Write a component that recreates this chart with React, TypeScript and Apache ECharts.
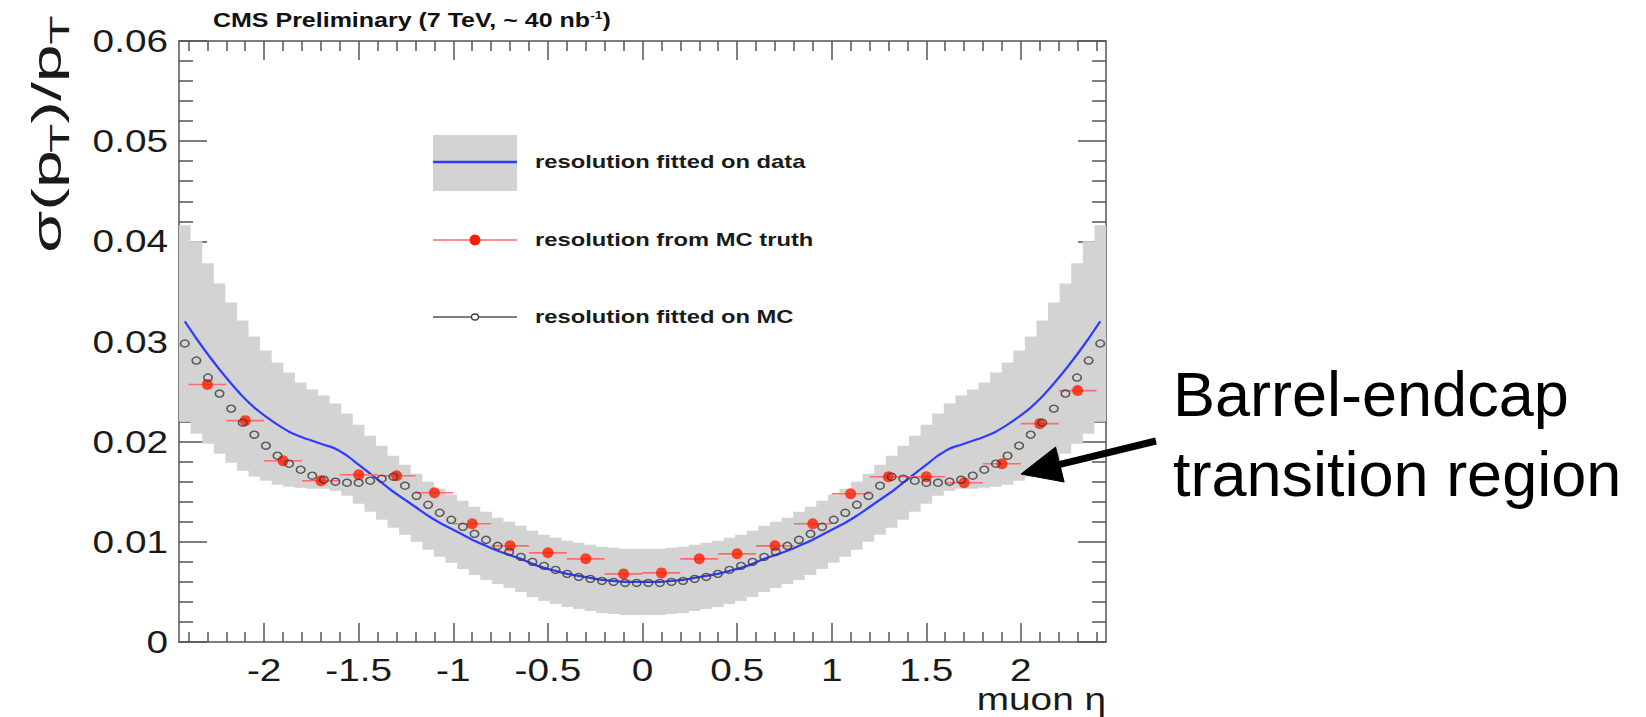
import React, { useEffect, useRef } from "react";
import * as echarts from "echarts";

// ---------------- data ----------------
const ETA_MIN = -2.45;
const ETA_MAX = 2.45;
const N_BINS = 80;
const BIN_W = (ETA_MAX - ETA_MIN) / N_BINS;
const etaCenters = Array.from({ length: N_BINS }, (_, k) => +(ETA_MIN + (k + 0.5) * BIN_W).toFixed(5));

// resolution fitted on MC (open circles), one value per bin
const mcFit = [
  0.0298, 0.0281, 0.0264, 0.0248, 0.0233, 0.0219, 0.0207, 0.0196, 0.0186, 0.0178,
  0.0172, 0.0166, 0.0162, 0.0160, 0.0159, 0.0159, 0.0161, 0.0163, 0.0165, 0.0156,
  0.0146, 0.0137, 0.0129, 0.0122, 0.0115, 0.0108, 0.0102, 0.0096, 0.0090, 0.0085,
  0.0080, 0.0076, 0.0072, 0.0068, 0.0065, 0.0063, 0.0061, 0.0060, 0.0059, 0.0059,
  0.0059, 0.0059, 0.0060, 0.0061, 0.0063, 0.0065, 0.0068, 0.0072, 0.0076, 0.0080,
  0.0085, 0.0090, 0.0096, 0.0102, 0.0108, 0.0115, 0.0122, 0.0129, 0.0137, 0.0146,
  0.0156, 0.0165, 0.0163, 0.0161, 0.0159, 0.0159, 0.0160, 0.0162, 0.0166, 0.0172,
  0.0178, 0.0186, 0.0196, 0.0207, 0.0219, 0.0233, 0.0248, 0.0264, 0.0281, 0.0298,
];

// resolution fitted on data (blue line)
const dataFit = [
  0.0320, 0.0303, 0.0287, 0.0272, 0.0258, 0.0245, 0.0234, 0.0225, 0.0217, 0.0210,
  0.0205, 0.0201, 0.0197, 0.0193, 0.0186, 0.0177, 0.0168, 0.0159, 0.0150, 0.0142,
  0.0134, 0.0126, 0.0119, 0.0113, 0.0107, 0.0101, 0.0096, 0.0091, 0.0087, 0.0083,
  0.0078, 0.0074, 0.0071, 0.0068, 0.0066, 0.0064, 0.0062, 0.0061, 0.0060, 0.0060,
  0.0060, 0.0060, 0.0061, 0.0062, 0.0064, 0.0066, 0.0068, 0.0071, 0.0074, 0.0078,
  0.0083, 0.0087, 0.0091, 0.0096, 0.0101, 0.0107, 0.0113, 0.0119, 0.0126, 0.0134,
  0.0142, 0.0150, 0.0159, 0.0168, 0.0177, 0.0186, 0.0193, 0.0197, 0.0201, 0.0205,
  0.0210, 0.0217, 0.0225, 0.0234, 0.0245, 0.0258, 0.0272, 0.0287, 0.0303, 0.0320,
];

// uncertainty band of the data fit (grey), lower and upper edge per bin
const bandLow = [
  0.0220, 0.0208, 0.0198, 0.0188, 0.0179, 0.0171, 0.0165, 0.0161, 0.0157, 0.0155,
  0.0154, 0.0153, 0.0153, 0.0151, 0.0146, 0.0138, 0.0130, 0.0122, 0.0114, 0.0107,
  0.0100, 0.0092, 0.0085, 0.0079, 0.0073, 0.0067, 0.0062, 0.0058, 0.0054, 0.0050,
  0.0045, 0.0041, 0.0038, 0.0035, 0.0033, 0.0031, 0.0029, 0.0028, 0.0027, 0.0027,
  0.0027, 0.0027, 0.0028, 0.0029, 0.0031, 0.0033, 0.0035, 0.0038, 0.0041, 0.0045,
  0.0050, 0.0054, 0.0058, 0.0062, 0.0067, 0.0073, 0.0079, 0.0085, 0.0092, 0.0100,
  0.0107, 0.0114, 0.0122, 0.0130, 0.0138, 0.0146, 0.0151, 0.0153, 0.0153, 0.0154,
  0.0155, 0.0157, 0.0161, 0.0165, 0.0171, 0.0179, 0.0188, 0.0198, 0.0208, 0.0220,
];
const bandHigh = [
  0.0416, 0.0400, 0.0378, 0.0358, 0.0339, 0.0321, 0.0305, 0.0291, 0.0279, 0.0269,
  0.0259, 0.0252, 0.0246, 0.0238, 0.0228, 0.0217, 0.0206, 0.0196, 0.0186, 0.0177,
  0.0168, 0.0160, 0.0153, 0.0147, 0.0141, 0.0135, 0.0130, 0.0124, 0.0120, 0.0116,
  0.0111, 0.0107, 0.0104, 0.0101, 0.0099, 0.0097, 0.0095, 0.0094, 0.0093, 0.0093,
  0.0093, 0.0093, 0.0094, 0.0095, 0.0097, 0.0099, 0.0101, 0.0104, 0.0107, 0.0111,
  0.0116, 0.0120, 0.0124, 0.0130, 0.0135, 0.0141, 0.0147, 0.0153, 0.0160, 0.0168,
  0.0177, 0.0186, 0.0196, 0.0206, 0.0217, 0.0228, 0.0238, 0.0246, 0.0252, 0.0259,
  0.0269, 0.0279, 0.0291, 0.0305, 0.0321, 0.0339, 0.0358, 0.0378, 0.0400, 0.0416,
];

// resolution from MC truth (red points with horizontal bars)
const truthEta = [
  -2.3, -2.1, -1.9, -1.7, -1.5, -1.3, -1.1, -0.9, -0.7, -0.5, -0.3, -0.1,
  0.1, 0.3, 0.5, 0.7, 0.9, 1.1, 1.3, 1.5, 1.7, 1.9, 2.1, 2.3,
];
const truthVal = [
  0.0257, 0.0221, 0.0181, 0.0161, 0.0167, 0.0166, 0.0149, 0.0118, 0.0096, 0.0089, 0.0083, 0.0068,
  0.0069, 0.0083, 0.0088, 0.0096, 0.0118, 0.0148, 0.0165, 0.0165, 0.0159, 0.0178, 0.0218, 0.0251,
];
const TRUTH_HALF_WIDTH = 0.1;

// axes
const xMajorTicks = [-2, -1.5, -1, -0.5, 0, 0.5, 1, 1.5, 2];
const xTickLabels = ["-2", "-1.5", "-1", "-0.5", "0", "0.5", "1", "1.5", "2"];
const xMinorTicks = [
  -2.4, -2.3, -2.2, -2.1, -1.9, -1.8, -1.7, -1.6, -1.4, -1.3, -1.2, -1.1, -0.9, -0.8, -0.7, -0.6,
  -0.4, -0.3, -0.2, -0.1, 0.1, 0.2, 0.3, 0.4, 0.6, 0.7, 0.8, 0.9, 1.1, 1.2, 1.3, 1.4, 1.6, 1.7,
  1.8, 1.9, 2.1, 2.2, 2.3, 2.4,
];
const Y_MIN = 0;
const Y_MAX = 0.06;
const yMajorTicks = [0, 0.01, 0.02, 0.03, 0.04, 0.05, 0.06];
const yTickLabels = ["0", "0.01", "0.02", "0.03", "0.04", "0.05", "0.06"];
const yMinorTicks = [
  0.002, 0.004, 0.006, 0.008, 0.012, 0.014, 0.016, 0.018, 0.022, 0.024, 0.026, 0.028,
  0.032, 0.034, 0.036, 0.038, 0.042, 0.044, 0.046, 0.048, 0.052, 0.054, 0.056, 0.058,
];

const legendLabels = ["resolution fitted on data", "resolution from MC truth", "resolution fitted on MC"];
const titleText = "CMS Preliminary (7 TeV, ~ 40 nb";
const yTitleParts = ["σ(p", "T", ")/p", "T"];
const annotationLines = ["Barrel-endcap", "transition region"];

// ---------------- styles ----------------
const FONT = "'Liberation Sans', Arial, Helvetica, sans-serif";
const STRETCH = 1.25;
const FRAME = { color: "#555", width: 1.5 };
const BLUE = "#2f3cff";
const RED = "#ff1e00";
const RED_BAR = "#ff6b6b";
const BAND = "#d3d3d3";
const MC_EDGE = "#3a3a3a";

function xAxisDef(position: "top" | "bottom", line: boolean, ticks: number[], len: number) {
  return {
    type: "value",
    min: ETA_MIN,
    max: ETA_MAX,
    position,
    axisLine: { show: line, onZero: false, lineStyle: FRAME },
    axisTick: { show: true, inside: true, length: len, customValues: ticks, lineStyle: FRAME },
    axisLabel: { show: false },
    splitLine: { show: false },
  };
}
function yAxisDef(position: "left" | "right", line: boolean, ticks: number[], len: number) {
  return {
    type: "value",
    min: Y_MIN,
    max: Y_MAX,
    position,
    axisLine: { show: line, onZero: false, lineStyle: FRAME },
    axisTick: { show: true, inside: true, length: len, customValues: ticks, lineStyle: FRAME },
    axisLabel: { show: false },
    splitLine: { show: false },
  };
}

function buildYTitle() {
  // rotated title written bottom-to-top, pieces laid one after another
  const MAIN = 40, SUB = 28, LEN_SCALE = 1.7;
  const widthsEm = [0.58 + 0.333 + 0.556, 0.611, 0.333 + 0.278 + 0.556, 0.611];
  const sizes = [MAIN, SUB, MAIN, SUB];
  const lens = widthsEm.map((w, i) => w * sizes[i] * LEN_SCALE);
  const total = lens.reduce((a, b) => a + b, 0);
  const centerY = 134;
  const mainX = 47;
  const subX = 59;
  let y = centerY + total / 2;
  const els: any[] = [];
  yTitleParts.forEach((t, i) => {
    els.push({
      type: "text",
      x: i % 2 === 0 ? mainX : subX,
      y,
      rotation: Math.PI / 2,
      scaleX: LEN_SCALE,
      style: {
        text: t,
        font: `${sizes[i]}px ${FONT}`,
        fill: "#1a1a1a",
        align: "left",
        verticalAlign: "middle",
      },
    });
    y -= lens[i];
  });
  return els;
}

function buildArrow() {
  const tipX = 1021, tipY = 474;
  const tailX = 1156, tailY = 441;
  const dx = tailX - tipX;
  const dy = tailY - tipY;
  const len = Math.hypot(dx, dy);
  const ux = dx / len, uy = dy / len;
  const headL = 40, headW = 18;
  const bx = tipX + ux * headL, by = tipY + uy * headL;
  const nx = -uy, ny = ux;
  return [
    {
      type: "line",
      shape: { x1: bx - ux * 3, y1: by - uy * 3, x2: tailX, y2: tailY },
      style: { stroke: "#000", lineWidth: 7 },
      z: 100,
    },
    {
      type: "polygon",
      shape: {
        points: [
          [tipX, tipY],
          [bx + nx * headW, by + ny * headW],
          [bx - nx * headW, by - ny * headW],
        ],
      },
      style: { fill: "#000", stroke: "#000", lineWidth: 1, lineJoin: "miter" },
      z: 100,
    },
  ];
}

function buildOption() {
  const legendText = (y: number, t: string) => ({
    type: "text",
    x: 535,
    y,
    scaleX: STRETCH,
    style: { text: t, font: `bold 19px ${FONT}`, fill: "#1a1a1a", align: "left", verticalAlign: "middle" },
  });

  return {
    animation: false,
    backgroundColor: "#fff",
    grid: { left: 179, top: 41, width: 927, height: 601, outerBoundsMode: "none", containLabel: false },
    xAxis: [
      xAxisDef("bottom", true, xMajorTicks, 19),
      xAxisDef("bottom", false, xMinorTicks, 10),
      xAxisDef("top", true, xMajorTicks, 19),
      xAxisDef("top", false, xMinorTicks, 10),
    ],
    yAxis: [
      yAxisDef("left", true, yMajorTicks, 28),
      yAxisDef("left", false, yMinorTicks, 14),
      yAxisDef("right", true, yMajorTicks, 28),
      yAxisDef("right", false, yMinorTicks, 14),
    ],
    series: [
      {
        name: "band",
        type: "custom",
        silent: true,
        data: [[0, 0]],
        renderItem: (params: any, api: any) => {
          const pts: number[][] = [];
          for (let k = 0; k < N_BINS; k++) {
            pts.push(api.coord([etaCenters[k] - BIN_W / 2, bandHigh[k]]));
            pts.push(api.coord([etaCenters[k] + BIN_W / 2, bandHigh[k]]));
          }
          for (let k = N_BINS - 1; k >= 0; k--) {
            pts.push(api.coord([etaCenters[k] + BIN_W / 2, bandLow[k]]));
            pts.push(api.coord([etaCenters[k] - BIN_W / 2, bandLow[k]]));
          }
          return { type: "polygon", shape: { points: pts }, style: { fill: BAND } };
        },
        z: 1,
      },
      {
        name: "resolution fitted on data",
        type: "line",
        data: etaCenters.map((x, i) => [x, dataFit[i]]),
        showSymbol: false,
        smooth: 0.3,
        lineStyle: { color: BLUE, width: 2.2 },
        silent: true,
        z: 2,
      },
      {
        name: "truth bars",
        type: "custom",
        silent: true,
        data: truthEta.map((x, i) => [x, truthVal[i]]),
        renderItem: (params: any, api: any) => {
          const a = api.coord([api.value(0) - TRUTH_HALF_WIDTH, api.value(1)]);
          const b = api.coord([api.value(0) + TRUTH_HALF_WIDTH, api.value(1)]);
          return {
            type: "line",
            shape: { x1: a[0], y1: a[1], x2: b[0], y2: b[1] },
            style: { stroke: RED_BAR, lineWidth: 1.6 },
          };
        },
        z: 3,
      },
      {
        name: "resolution from MC truth",
        type: "scatter",
        data: truthEta.map((x, i) => [x, truthVal[i]]),
        symbol: "circle",
        symbolSize: 11,
        itemStyle: { color: RED },
        silent: true,
        z: 4,
      },
      {
        name: "resolution fitted on MC",
        type: "scatter",
        data: etaCenters.map((x, i) => [x, mcFit[i]]),
        symbol: "circle",
        symbolSize: [8.5, 7],
        itemStyle: { color: "rgba(255,255,255,0)", borderColor: MC_EDGE, borderWidth: 1.5 },
        silent: true,
        z: 5,
      },
      {
        name: "x tick labels",
        type: "custom",
        silent: true,
        clip: false,
        data: xMajorTicks.map((v) => [v, Y_MIN]),
        renderItem: (params: any, api: any) => {
          const p = api.coord([api.value(0), api.value(1)]);
          return {
            type: "text",
            x: p[0],
            y: p[1] + 28,
            scaleX: STRETCH,
            style: {
              text: xTickLabels[params.dataIndex],
              font: `31px ${FONT}`,
              fill: "#1a1a1a",
              align: "center",
              verticalAlign: "middle",
            },
          };
        },
        z: 6,
      },
      {
        name: "y tick labels",
        type: "custom",
        silent: true,
        clip: false,
        data: yMajorTicks.map((v) => [ETA_MIN, v]),
        renderItem: (params: any, api: any) => {
          const p = api.coord([api.value(0), api.value(1)]);
          return {
            type: "text",
            x: p[0] - 11,
            y: p[1],
            scaleX: STRETCH,
            style: {
              text: yTickLabels[params.dataIndex],
              font: `31px ${FONT}`,
              fill: "#1a1a1a",
              align: "right",
              verticalAlign: "middle",
            },
          };
        },
        z: 6,
      },
    ],
    graphic: [
      // title
      {
        type: "text",
        x: 213,
        y: 22,
        scaleX: STRETCH,
        style: {
          text: `{b|${titleText}}{s|-1}{b|)}`,
          align: "left",
          verticalAlign: "middle",
          fill: "#111",
          rich: {
            b: { font: `bold 20px ${FONT}`, fill: "#111", lineHeight: 24, verticalAlign: "top" },
            s: { font: `bold 11px ${FONT}`, fill: "#111", lineHeight: 14, verticalAlign: "top" },
          },
        },
      },
      // y axis title
      ...buildYTitle(),
      // x axis title
      {
        type: "text",
        x: 1106,
        y: 699,
        scaleX: STRETCH,
        style: { text: "muon η", font: `31px ${FONT}`, fill: "#1a1a1a", align: "right", verticalAlign: "middle" },
      },
      // legend
      { type: "rect", shape: { x: 433, y: 135, width: 84, height: 56 }, style: { fill: BAND } },
      { type: "line", shape: { x1: 433, y1: 162, x2: 517, y2: 162 }, style: { stroke: BLUE, lineWidth: 2.6 } },
      legendText(162, legendLabels[0]),
      { type: "line", shape: { x1: 433, y1: 240, x2: 517, y2: 240 }, style: { stroke: RED_BAR, lineWidth: 1.6 } },
      { type: "circle", shape: { cx: 475, cy: 240, r: 5.5 }, style: { fill: RED } },
      legendText(240, legendLabels[1]),
      { type: "line", shape: { x1: 433, y1: 317, x2: 517, y2: 317 }, style: { stroke: "#555", lineWidth: 1.6 } },
      { type: "ellipse", shape: { cx: 475, cy: 317, rx: 3.5, ry: 3 }, style: { fill: "#fff", stroke: MC_EDGE, lineWidth: 1.3 } },
      legendText(317, legendLabels[2]),
      // annotation
      {
        type: "text",
        x: 1173,
        y: 394,
        style: { text: annotationLines[0], font: `63px ${FONT}`, fill: "#000", align: "left", verticalAlign: "middle" },
      },
      {
        type: "text",
        x: 1173,
        y: 474,
        style: { text: annotationLines[1], font: `63px ${FONT}`, fill: "#000", align: "left", verticalAlign: "middle" },
      },
      ...buildArrow(),
    ],
  };
}

export default function App() {
  const ref = useRef<HTMLDivElement>(null);
  useEffect(() => {
    if (!ref.current) return;
    const chart = echarts.init(ref.current, null, { renderer: "svg" });
    chart.setOption(buildOption() as any);
    return () => chart.dispose();
  }, []);
  return (
    <div
      ref={ref}
      style={{ position: "absolute", left: 0, top: 0, width: 1646, height: 717, background: "#fff" }}
    />
  );
}
